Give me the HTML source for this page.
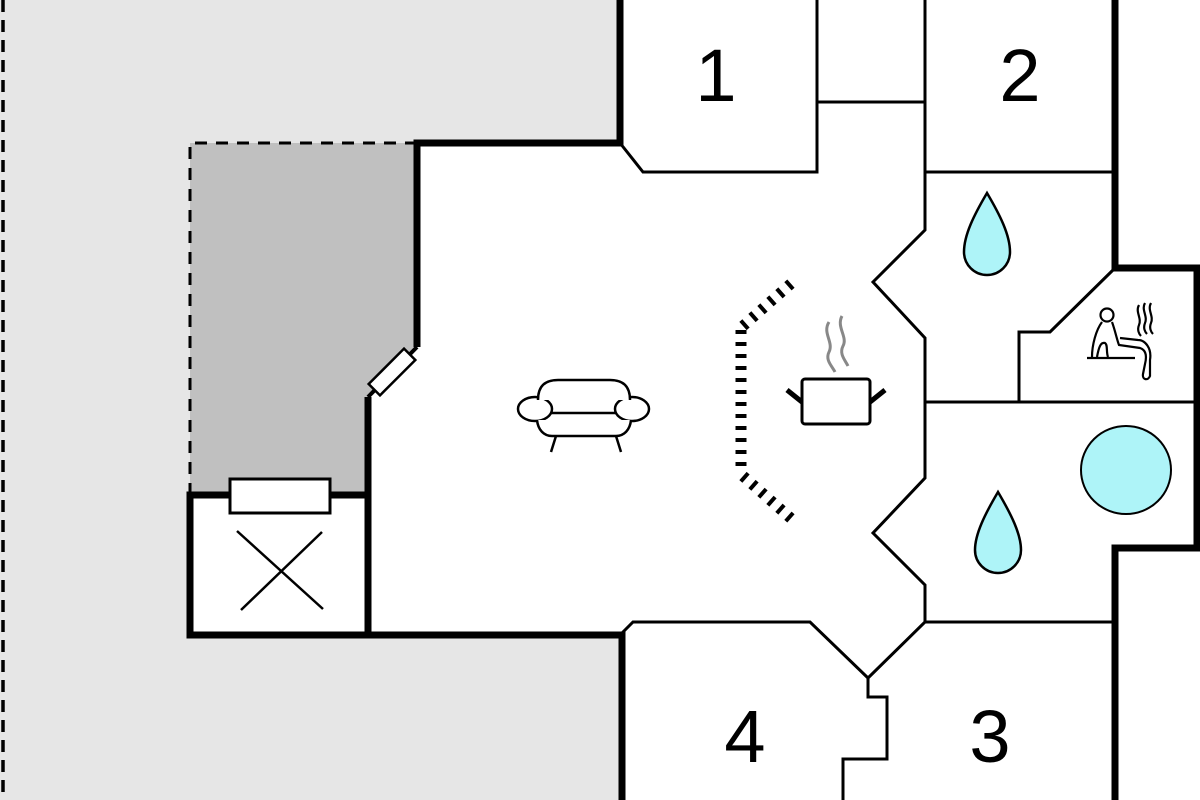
<!DOCTYPE html>
<html><head><meta charset="utf-8"><style>
html,body{margin:0;padding:0;background:#fff}
svg{display:block}
text{font-family:"Liberation Sans",sans-serif}
</style></head><body>
<svg width="1200" height="800" viewBox="0 0 1200 800" xmlns="http://www.w3.org/2000/svg">
<rect x="0" y="0" width="622" height="800" fill="#e6e6e6"/>
<line x1="3" y1="0" x2="3" y2="800" stroke="#000" stroke-width="3.5" stroke-dasharray="12 8"/>
<polygon points="620,0 1115,0 1115,800 622,800 622,635 368,635 368,397 417,347 417,143 620,143" fill="#fff"/>
<rect x="190" y="495" width="178" height="140" fill="#fff"/>
<polygon points="190,143 417,143 417,347 368,397 368,495 190,495" fill="#c0c0c0"/>
<polyline points="190,495 190,143 417,143" fill="none" stroke="#000" stroke-width="3" stroke-dasharray="12 9"/>
<g fill="none" stroke="#000" stroke-width="7" stroke-linejoin="miter">
<polyline points="620,0 620,143 417,143 417,347"/>
<polyline points="368,397 368,635 190,635 190,495 368,495"/>
<polyline points="368,635 622,635 622,800"/>
<polyline points="1115,0 1115,268 1197,268 1197,548 1115,548 1115,800"/>
</g>
<line x1="417" y1="347" x2="368" y2="397" stroke="#000" stroke-width="4"/>
<g fill="none" stroke="#000" stroke-width="3">
<polyline points="620,143 643,172 817,172 817,0"/>
<line x1="817" y1="102" x2="925" y2="102"/>
<polyline points="925,0 925,230 873,282 925,338 925,478 873,533 925,585 925,622 868,678 810,622 633,622 620,635"/>
<line x1="925" y1="172" x2="1113" y2="172"/>
<polyline points="1113,270 1050,332 1019,332 1019,402"/>
<line x1="925" y1="402" x2="1195" y2="402"/>
<line x1="925" y1="622" x2="1113" y2="622"/>
<polyline points="868,678 868,697 887,697 887,759 843,759 843,800"/>
</g>
<rect x="230" y="479" width="100" height="34" fill="#fff" stroke="#000" stroke-width="3"/>
<rect x="-25" y="-8" width="50" height="16" fill="#fff" stroke="#000" stroke-width="2.5" transform="translate(392,372) rotate(-45)"/>
<line x1="237" y1="531" x2="323" y2="609" stroke="#000" stroke-width="2.5"/>
<line x1="241" y1="610" x2="322" y2="532" stroke="#000" stroke-width="2.5"/>
<g font-size="74" fill="#000" text-anchor="middle">
<text x="716" y="101">1</text>
<text x="1020" y="101">2</text>
<text x="990" y="762">3</text>
<text x="745" y="762">4</text>
</g>
<path d="M987,193 C1000,215 1010,235 1010,252 A23,23 0 0 1 964,252 C964,235 974,215 987,193 Z" fill="#aef4f8" stroke="#000" stroke-width="2.5"/>
<path d="M998,492 C1011,514 1021,534 1021,550 A23,23 0 0 1 975,550 C975,534 985,514 998,492 Z" fill="#aef4f8" stroke="#000" stroke-width="2.5"/>
<ellipse cx="1126" cy="470" rx="45" ry="44" fill="#aef4f8" stroke="#000" stroke-width="2"/>
<g fill="none" stroke="#000" stroke-width="11" stroke-dasharray="4 8">
<line x1="741" y1="330" x2="741" y2="472"/>
<line x1="743" y1="326" x2="795" y2="280"/>
<line x1="743" y1="476" x2="795" y2="522"/>
</g>
<rect x="802" y="379" width="68" height="45" rx="3" fill="#fff" stroke="#000" stroke-width="3"/>
<line x1="787" y1="390" x2="802" y2="402" stroke="#000" stroke-width="5"/>
<line x1="885" y1="390" x2="870" y2="402" stroke="#000" stroke-width="5"/>
<path d="M829,322 C822,333 834,342 829,352 C825,360 832,366 835,372" fill="none" stroke="#888" stroke-width="3"/>
<path d="M842,316 C836,327 848,337 843,346 C839,354 845,360 848,366" fill="none" stroke="#888" stroke-width="3"/>
<g fill="#fff" stroke="#000" stroke-width="2.5">
<ellipse cx="535" cy="409" rx="17" ry="12"/>
<ellipse cx="632" cy="409" rx="17" ry="12"/>
<path d="M538,400 C538,386 545,380 558,380 L610,380 C623,380 630,386 630,400"/>
<path d="M537,420 C538,430 544,436 552,436 L616,436 C624,436 630,430 631,420"/>
<line x1="551" y1="413" x2="616" y2="413"/>
<line x1="556" y1="436" x2="551" y2="452"/>
<line x1="616" y1="436" x2="621" y2="452"/>
</g>
<g fill="none" stroke="#000" stroke-width="2.2">
<circle cx="1107" cy="315" r="6.5"/>
<path d="M1102,322 C1096,330 1092,345 1092,357 M1112,322 C1115,330 1117,340 1119,345 L1140,348 C1146,350 1147,356 1145,364 L1143,374 C1142,380 1148,381 1150,376 L1150,360 C1152,348 1145,340 1138,340 L1120,338"/>
<path d="M1097,357 C1099,346 1101,342 1105,343 C1108,345 1106,352 1108,357"/>
<line x1="1087" y1="358" x2="1135" y2="358"/>
<path d="M1139,305 C1135,312 1142,318 1139,325 C1137,330 1139,334 1141,336"/>
<path d="M1145,303 C1141,310 1148,316 1145,323 C1143,328 1145,332 1147,334"/>
<path d="M1151,303 C1147,310 1154,316 1151,323 C1149,328 1151,332 1153,334"/>
</g>
</svg>
</body></html>
